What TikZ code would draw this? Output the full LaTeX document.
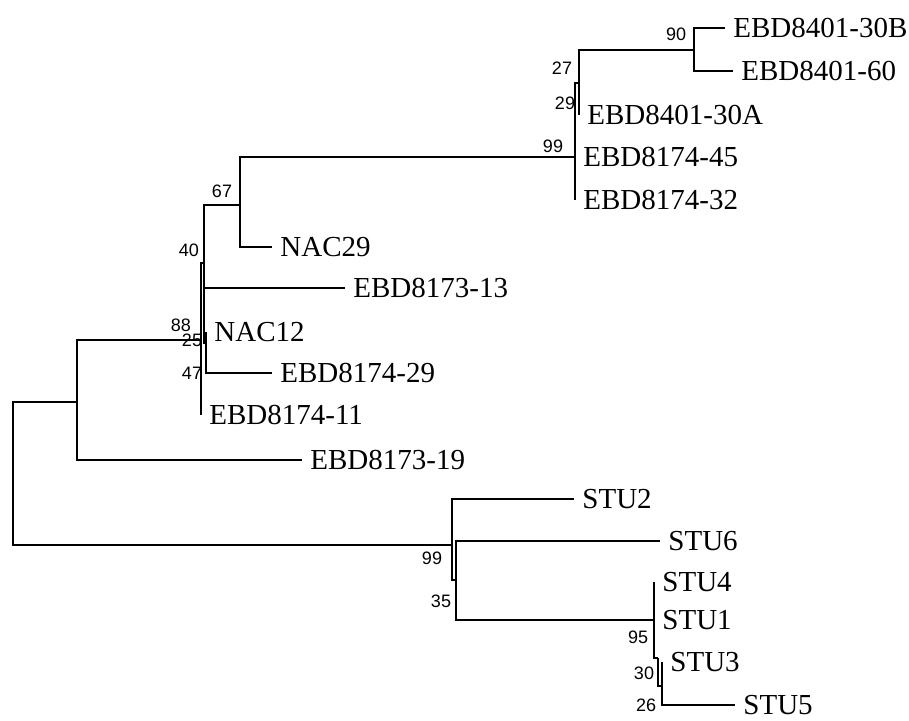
\documentclass[tikz,border=0pt]{standalone}
\usepackage{fontspec}
\setmainfont{Liberation Serif}
\newfontfamily\bootfont{Liberation Sans}
\tikzset{
  branch/.style={line width=1pt},
  leaf/.style={anchor=west, inner xsep=4pt, inner ysep=0pt, font=\fontsize{14.5}{16}\selectfont},
  boot/.style={inner sep=0pt, font=\bootfont\fontsize{9}{10}\selectfont},
}

\begin{document}
\begin{tikzpicture}[x=0.5pt, y=-0.5pt]
  \useasboundingbox (0,0) rectangle (909,720);

  % Internal nodes
  \coordinate (root) at (13,473);
  \coordinate (a) at (77,402);
  \coordinate (n88) at (201,340);
  \coordinate (n40) at (204,263);
  \coordinate (n25) at (206,343);
  \coordinate (n67) at (240,205);
  \coordinate (n99) at (575,157);
  \coordinate (n27) at (579,83);
  \coordinate (n90) at (694,50);
  \coordinate (s) at (452,545);
  \coordinate (n35) at (456,580);
  \coordinate (n95) at (654,620);
  \coordinate (n30) at (658,658);
  \coordinate (n26) at (662,686);

  % Leaves
  \node[leaf] (e30b) at (725,28) {EBD8401-30B};
  \node[leaf] (e60) at (733,71) {EBD8401-60};
  \node[leaf] (e30a) at (579,115) {EBD8401-30A};
  \node[leaf] (e45) at (575,157) {EBD8174-45};
  \node[leaf] (e32) at (575,200) {EBD8174-32};
  \node[leaf] (nac29) at (272,247) {NAC29};
  \node[leaf] (e13) at (345,288) {EBD8173-13};
  \node[leaf] (nac12) at (206,332) {NAC12};
  \node[leaf] (e29) at (272,373) {EBD8174-29};
  \node[leaf] (e11) at (201,415) {EBD8174-11};
  \node[leaf] (e19) at (302,460) {EBD8173-19};
  \node[leaf] (stu2) at (574,499) {STU2};
  \node[leaf] (stu6) at (660,541) {STU6};
  \node[leaf] (stu4) at (654,582) {STU4};
  \node[leaf] (stu1) at (654,620) {STU1};
  \node[leaf] (stu3) at (662,662) {STU3};
  \node[leaf] (stu5) at (735,705) {STU5};

  % Branches
  \foreach \p/\c in {root/a, root/s, a/n88, a/e19.west, n88/n40, n88/e11.west,
      n40/n67, n40/e13.west, n40/n25, n25/nac12.west, n25/e29.west,
      n67/n99, n67/nac29.west, n99/n27, n99/e45.west, n99/e32.west,
      n27/n90, n27/e30a.west, n90/e30b.west, n90/e60.west,
      s/stu2.west, s/n35, n35/stu6.west, n35/n95,
      n95/stu4.west, n95/stu1.west, n95/n30, n30/n26,
      n26/stu3.west, n26/stu5.west}
    \draw[branch] (\p) |- (\c);

  % Bootstrap values
  \node[boot] (b90) at (676,34) {90};
  \node[boot] (b27) at (562,68) {27};
  \node[boot] (b29) at (565,103) {29};
  \node[boot] (b99a) at (553,146) {99};
  \node[boot] (b67) at (222,191) {67};
  \node[boot] (b40) at (189,250) {40};
  \node[boot] (b88) at (181,325) {88};
  \node[boot] (b25) at (192,340) {25};
  \node[boot] (b47) at (192,373) {47};
  \node[boot] (b99b) at (432,558) {99};
  \node[boot] (b35) at (441,601) {35};
  \node[boot] (b95) at (638,637) {95};
  \node[boot] (b30) at (644,673) {30};
  \node[boot] (b26) at (646,705) {26};
\end{tikzpicture}
\end{document}
